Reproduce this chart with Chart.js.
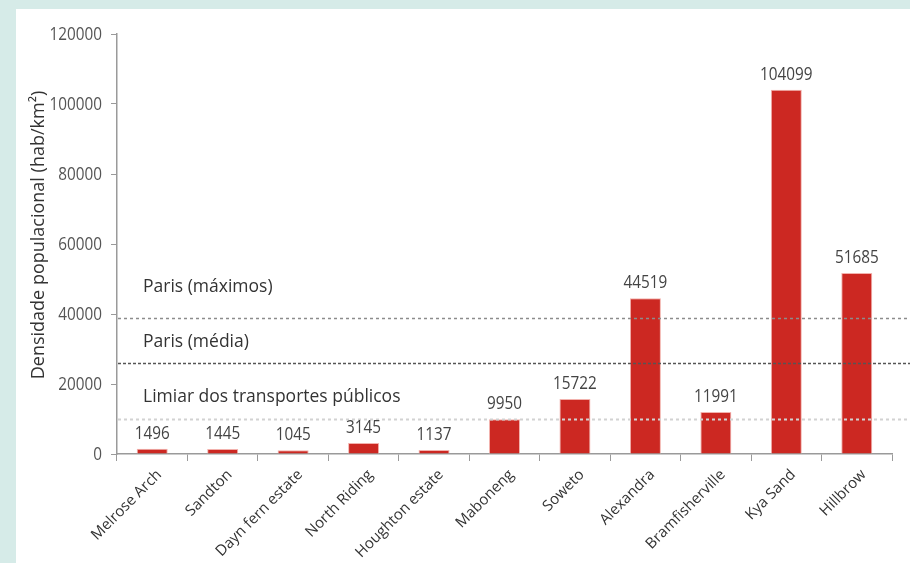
<!DOCTYPE html>
<html lang="pt">
<head>
<meta charset="utf-8">
<title>Densidade populacional em Joanesburgo</title>
<script src="https://cdn.jsdelivr.net/npm/chart.js@4.4.1/dist/chart.umd.min.js"></script>
<style>
  html, body { margin: 0; padding: 0; }
  body { width: 910px; height: 563px; background: #d6ebe8; position: relative; overflow: hidden; }
  #panel { position: absolute; left: 16px; top: 9px; width: 894px; height: 554px; background: #fff; }
  #panel canvas { display: block; }
</style>
</head>
<body>
<div id="panel"><canvas id="densityChart" width="894" height="554"></canvas></div>
<script>
// --- Data ---
const bairros = ['Melrose Arch', 'Sandton', 'Dayn fern estate', 'North Riding', 'Houghton estate',
  'Maboneng', 'Soweto', 'Alexandra', 'Bramfisherville', 'Kya Sand', 'Hillbrow'];
const densidade = [1496, 1445, 1045, 3145, 1137, 9950, 15722, 44519, 11991, 104099, 51685];
const yTicks = [0, 20000, 40000, 60000, 80000, 100000, 120000];
const yTitulo = 'Densidade populacional (hab/km²)';
const refNomes = ['Paris (máximos)', 'Paris (média)', 'Limiar dos transportes públicos'];
const refValores = [39000, 26000, 10000];

// line styles for the reference levels
const refEstilos = [
  { color: '#8c8c8c', width: 1.5, dash: [3, 3], labelOffset: 31 },
  { color: '#555555', width: 1.5, dash: [3, 2], labelOffset: 21 },
  { color: '#d2d2d2', width: 2, dash: [3, 3], labelOffset: 22 },
];

const labelFont = "'Open Sans', 'Noto Sans', sans-serif";
const numFont = '18px ' + labelFont;
const numSquash = 0.85; // numbers are set in a narrower face

function drawNumber(ctx, text, x, y) {
  ctx.save();
  ctx.translate(x, y);
  ctx.scale(numSquash, 1);
  ctx.fillText(text, 0, 0);
  ctx.restore();
}

// dashed reference lines + their captions, drawn over the bars
const refLinesPlugin = {
  id: 'refLines',
  afterDatasetsDraw(chart) {
    const { ctx, chartArea, scales } = chart;
    ctx.save();
    refValores.forEach((v, i) => {
      const st = refEstilos[i];
      const y = Math.round(scales.y.getPixelForValue(v)) + 0.5;
      ctx.beginPath();
      ctx.setLineDash(st.dash);
      ctx.strokeStyle = st.color;
      ctx.lineWidth = st.width;
      ctx.moveTo(chartArea.left + 1, y);
      ctx.lineTo(chart.width, y);
      ctx.stroke();
      ctx.setLineDash([]);
      ctx.fillStyle = '#333';
      ctx.font = '17.5px ' + labelFont;
      ctx.textAlign = 'left';
      ctx.textBaseline = 'middle';
      ctx.fillText(refNomes[i], chartArea.left + 26, y - st.labelOffset);
    });
    ctx.restore();
  }
};

// values above bars and the y tick numbers
const numbersPlugin = {
  id: 'numbers',
  afterDraw(chart) {
    const { ctx, scales } = chart;
    const meta = chart.getDatasetMeta(0);
    ctx.save();
    ctx.font = numFont;
    ctx.textAlign = 'center';
    ctx.textBaseline = 'alphabetic';
    ctx.fillStyle = '#444';
    meta.data.forEach((bar, i) => {
      drawNumber(ctx, String(densidade[i]), bar.x, bar.y - 10);
    });
    ctx.textAlign = 'right';
    ctx.textBaseline = 'middle';
    ctx.fillStyle = '#555';
    yTicks.forEach(v => {
      drawNumber(ctx, String(v), scales.y.left + 86, scales.y.getPixelForValue(v) + 1);
    });
    ctx.restore();
  }
};

// rotated y axis title
const yTitlePlugin = {
  id: 'yTitle',
  afterDraw(chart) {
    const { ctx } = chart;
    ctx.save();
    ctx.translate(23, 226);
    ctx.rotate(-Math.PI / 2);
    ctx.fillStyle = '#333';
    ctx.font = '18px ' + labelFont;
    ctx.textAlign = 'center';
    ctx.textBaseline = 'middle';
    ctx.fillText(yTitulo, 0, 0);
    ctx.restore();
  }
};

new Chart(document.getElementById('densityChart').getContext('2d'), {
  type: 'bar',
  data: {
    labels: bairros,
    datasets: [{
      data: densidade,
      backgroundColor: '#cc2822',
      borderColor: '#f2b2ad',
      borderWidth: 1,
      barPercentage: 0.44,
      categoryPercentage: 1,
    }]
  },
  options: {
    responsive: false,
    animation: false,
    layout: { padding: { top: 25, right: 18, bottom: 0, left: 0 } },
    plugins: { legend: { display: false }, tooltip: { enabled: false } },
    scales: {
      x: {
        offset: true,
        grid: { drawOnChartArea: false, drawTicks: true, tickLength: 7, color: '#9a9a9a', offset: true },
        border: { color: '#9a9a9a', width: 1.5 },
        ticks: {
          color: '#333',
          font: { family: labelFont, size: 15 },
          minRotation: 45,
          maxRotation: 45,
          padding: 5,
          labelOffset: 7,
          autoSkip: false,
        },
        afterFit(scale) { scale.height = 109; },
      },
      y: {
        min: 0,
        max: 120000,
        afterBuildTicks(scale) { scale.ticks = yTicks.map(v => ({ value: v })); },
        grid: { drawOnChartArea: false, drawTicks: true, tickLength: 6, color: '#9a9a9a' },
        border: { color: '#9a9a9a', width: 1.5 },
        ticks: { display: false },
        afterFit(scale) { scale.width = 101; },
      }
    }
  },
  plugins: [refLinesPlugin, numbersPlugin, yTitlePlugin]
});
</script>
</body>
</html>
